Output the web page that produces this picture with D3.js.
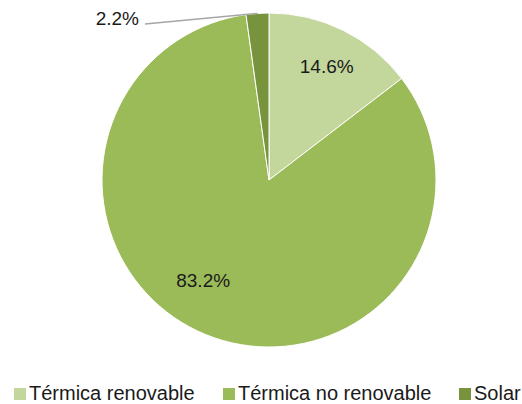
<!DOCTYPE html>
<html>
<head>
<meta charset="utf-8">
<script src="https://cdn.jsdelivr.net/npm/d3@7"></script>
<style>
  html, body { margin: 0; padding: 0; background: #fff; }
  svg { display: block; font-family: "Liberation Sans", Arial, sans-serif; }
</style>
</head>
<body>
<svg id="chart" width="522" height="404"></svg>
<script>
// Generation mix shares (percent)
const categories = ["Térmica renovable", "Térmica no renovable", "Solar"];
const values = [14.6, 83.2, 2.2];
const labels = ["14.6%", "83.2%", "2.2%"];
const colors = ["#c3d69b", "#9bbb59", "#77933c"];

const svg = d3.select("#chart");
const cx = 269, cy = 180, r = 167;

const pie = d3.pie().sort(null).value(d => d.value);
const arcs = pie(categories.map((c, i) => ({ name: c, value: values[i], label: labels[i] })));
const arc = d3.arc().innerRadius(0).outerRadius(r);

const g = svg.append("g").attr("transform", `translate(${cx},${cy})`);

g.selectAll("path")
  .data(arcs)
  .join("path")
  .attr("d", arc)
  .attr("fill", (d, i) => colors[i])
  .attr("stroke", "#ffffff")
  .attr("stroke-width", 1);

// Inside labels for the two large slices: polar placement (radius factor, angle shift)
const placement = [[0.765, 0.01], [0.72, 0.19]];
g.selectAll("text.inside")
  .data(arcs.slice(0, 2))
  .join("text")
  .attr("class", "inside")
  .each(function (d, i) {
    const a = (d.startAngle + d.endAngle) / 2 + placement[i][1];
    const rr = r * placement[i][0];
    d3.select(this)
      .attr("x", Math.sin(a) * rr)
      .attr("y", -Math.cos(a) * rr);
  })
  .attr("dy", "0.35em")
  .attr("text-anchor", "middle")
  .attr("font-size", 19)
  .attr("fill", "#1a1a1a")
  .text(d => d.data.label);

// Outside label with leader line for the small slice
const solar = arcs[2];
const midA = (solar.startAngle + solar.endAngle) / 2;
const edge = [Math.sin(midA) * r, -Math.cos(midA) * r];
const elbow = [145 - cx, 24 - cy];
g.append("polyline")
  .attr("points", [edge, elbow].map(p => p.join(",")).join(" "))
  .attr("fill", "none")
  .attr("stroke", "#a6a6a6")
  .attr("stroke-width", 1.5);
g.append("text")
  .attr("x", elbow[0] - 6)
  .attr("y", elbow[1] + 1)
  .attr("text-anchor", "end")
  .attr("font-size", 19)
  .attr("fill", "#1a1a1a")
  .text(solar.data.label);

// Legend
const legendX = [14, 223, 459];
const legend = svg.append("g").attr("transform", "translate(0,400)");
const items = legend.selectAll("g")
  .data(categories)
  .join("g")
  .attr("transform", (d, i) => `translate(${legendX[i]},0)`);
items.append("rect")
  .attr("x", 0).attr("y", -12)
  .attr("width", 12).attr("height", 12)
  .attr("fill", (d, i) => colors[i]);
items.append("text")
  .attr("x", 15)
  .attr("y", 0)
  .attr("font-size", 20)
  .attr("fill", "#1a1a1a")
  .text(d => d);
</script>
</body>
</html>
